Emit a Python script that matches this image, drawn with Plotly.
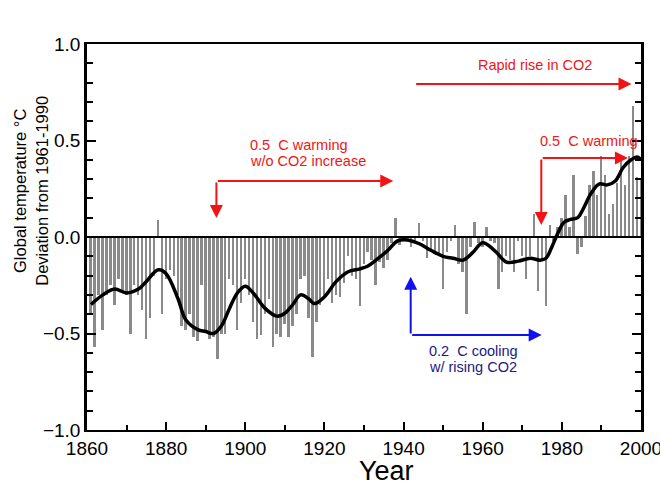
import plotly.graph_objects as go

# ---- data ----
years = list(range(1861, 2001))
anomaly = [
    -0.40, -0.57, -0.30, -0.48, -0.30, -0.25, -0.35, -0.22, -0.28, -0.30,   # 1861-1870
    -0.50, -0.25, -0.30, -0.38, -0.53, -0.42, -0.20, 0.09, -0.40, -0.22,    # 1871-1880
    -0.17, -0.20, -0.30, -0.46, -0.48, -0.40, -0.52, -0.54, -0.25, -0.48,   # 1881-1890
    -0.53, -0.52, -0.63, -0.50, -0.50, -0.22, -0.25, -0.48, -0.34, -0.22,   # 1891-1900
    -0.30, -0.44, -0.53, -0.51, -0.40, -0.32, -0.57, -0.50, -0.52, -0.45,   # 1901-1910
    -0.52, -0.46, -0.40, -0.22, -0.20, -0.42, -0.62, -0.44, -0.35, -0.30,   # 1911-1920
    -0.22, -0.34, -0.30, -0.31, -0.24, -0.10, -0.20, -0.22, -0.36, -0.14,   # 1921-1930
    -0.08, -0.12, -0.25, -0.13, -0.16, -0.12, -0.03, 0.10, -0.04, -0.01,    # 1931-1940
    -0.02, -0.05, -0.03, 0.07, -0.02, -0.11, -0.06, -0.08, -0.10, -0.27,    # 1941-1950
    -0.08, -0.02, 0.06, -0.14, -0.18, -0.40, -0.05, 0.08, -0.03, -0.05,     # 1951-1960
    0.05, -0.02, -0.03, -0.27, -0.18, -0.10, -0.12, -0.18, -0.02, -0.10,    # 1961-1970
    -0.22, -0.10, 0.12, -0.28, -0.12, -0.36, 0.06, -0.02, 0.05, 0.10,       # 1971-1980
    0.22, 0.05, 0.32, -0.09, -0.05, 0.11, 0.27, 0.34, 0.22, 0.42,           # 1981-1990
    0.32, 0.12, 0.17, 0.28, 0.41, 0.27, 0.42, 0.68, 0.31, 0.30,             # 1991-2000
]

smooth_years = [1861, 1864, 1867, 1870, 1873, 1875, 1878, 1880, 1883, 1885,
                1888, 1890, 1892, 1894, 1896, 1898, 1900, 1902, 1905, 1908,
                1910, 1912, 1914, 1916, 1917.5, 1920, 1923, 1926, 1929, 1931,
                1933, 1936, 1938.5, 1941, 1944, 1947, 1950, 1952.5, 1955, 1957.5,
                1960, 1963, 1966, 1969, 1972, 1974.5, 1976, 1977.5, 1979, 1980.5,
                1982, 1984, 1985.5, 1987.5, 1989.5, 1991.5, 1993.5, 1995.5, 1997.5, 1999,
                2000]
smooth_vals = [-0.35, -0.30, -0.27, -0.29, -0.27, -0.23, -0.17, -0.19, -0.32, -0.43,
               -0.48, -0.49, -0.50, -0.46, -0.37, -0.29, -0.255, -0.29, -0.37, -0.41,
               -0.395, -0.35, -0.30, -0.32, -0.345, -0.31, -0.23, -0.18, -0.165, -0.15,
               -0.12, -0.07, -0.02, -0.015, -0.035, -0.07, -0.10, -0.11, -0.12, -0.08,
               -0.03, -0.07, -0.13, -0.125, -0.11, -0.12, -0.11, -0.05, 0.02, 0.075,
               0.09, 0.10, 0.15, 0.23, 0.275, 0.27, 0.29, 0.36, 0.40, 0.415,
               0.40]

FONT = "Liberation Sans, Arial, Helvetica, sans-serif"
RED = "#f21414"
BLUE = "#1010f0"
NAVY = "#1a1a80"

fig = go.Figure()
fig.add_trace(go.Bar(x=years, y=anomaly, width=0.5,
                     marker=dict(color="#8a8a8a", line=dict(width=0)),
                     showlegend=False))
fig.add_trace(go.Scatter(x=smooth_years, y=smooth_vals, mode="lines",
                         line=dict(color="black", width=3.5, shape="spline", smoothing=1.0),
                         showlegend=False))

# zero line drawn above bars
fig.add_shape(type="line", xref="paper", yref="y", x0=0, x1=1, y0=0, y1=0,
              line=dict(color="black", width=2))

def arrow(x0, y0, x1, y1, color):
    fig.add_annotation(x=x1, y=y1, ax=x0, ay=y0, xref="x", yref="y", axref="x", ayref="y",
                       text="", showarrow=True, arrowhead=2, arrowsize=1.3, arrowwidth=2,
                       arrowcolor=color, standoff=0, startstandoff=0)

def label(x, y, text, color, anchor="left", size=14.5):
    fig.add_annotation(x=x, y=y, xref="x", yref="y", text=text, showarrow=False,
                       xanchor=anchor, yanchor="middle",
                       font=dict(family=FONT, size=size, color=color))

sp = "\u00a0"
# Rapid rise in CO2
arrow(1942.8, 0.793, 1997.6, 0.793, RED)
label(1973.2, 0.891, "Rapid rise in CO2", RED, anchor="center")
# early warming
arrow(1892.7, 0.290, 1937.4, 0.290, RED)
arrow(1892.7, 0.290, 1892.7, 0.098, RED)
label(1900.7, 0.477, "0.5" + sp + " C warming", RED)
label(1900.7, 0.395, "w/o CO2 increase", RED)
# late warming
arrow(1974.8, 0.409, 1996.7, 0.409, RED)
arrow(1974.8, 0.409, 1974.8, 0.062, RED)
label(1974.0, 0.497, "0.5" + sp + " C warming", RED)
# cooling
arrow(1941.8, -0.508, 1941.8, -0.206, BLUE)
arrow(1941.8, -0.508, 1974.9, -0.508, BLUE)
label(1945.9, -0.591, "0.2" + sp + " C cooling", NAVY)
label(1945.9, -0.674, "w/ rising CO2", NAVY)

# y-axis title (two lines)
fig.add_annotation(xref="paper", yref="paper", x=-0.101, y=0.62,
                   text="Global temperature \u00b0C<br>Deviation from 1961-1990",
                   textangle=-90, showarrow=False, xanchor="center", yanchor="middle",
                   font=dict(family=FONT, size=16.5, color="black"))
# x-axis title
fig.add_annotation(xref="paper", yref="paper", x=0.54, y=-0.105,
                   text="Year", showarrow=False, xanchor="center", yanchor="middle",
                   font=dict(family=FONT, size=27, color="black"))

fig.update_layout(
    width=660, height=493,
    margin=dict(l=87, r=19, t=44, b=63),
    paper_bgcolor="white", plot_bgcolor="white",
    bargap=0,
    font=dict(family=FONT, color="black"),
    xaxis=dict(range=[1860, 2000], dtick=20, tick0=1860,
               ticks="inside", ticklen=8, tickwidth=2, tickcolor="black",
               minor=dict(dtick=10, ticks="inside", ticklen=5, tickwidth=2, tickcolor="black"),
               showline=True, linecolor="black", linewidth=2, mirror=True,
               showgrid=False, zeroline=False, automargin=False,
               ticklabeloverflow="allow",
               tickfont=dict(family=FONT, size=19, color="black")),
    yaxis=dict(range=[-1, 1], dtick=0.5, tick0=0, tickformat=".1f",
               ticks="inside", ticklen=9, tickwidth=2, tickcolor="black",
               minor=dict(dtick=0.1, ticks="inside", ticklen=6, tickwidth=2, tickcolor="black"),
               showline=True, linecolor="black", linewidth=2.5, mirror="ticks",
               showgrid=False, zeroline=False, automargin=False,
               tickfont=dict(family=FONT, size=19, color="black")),
)

fig.write_html("out.html")
